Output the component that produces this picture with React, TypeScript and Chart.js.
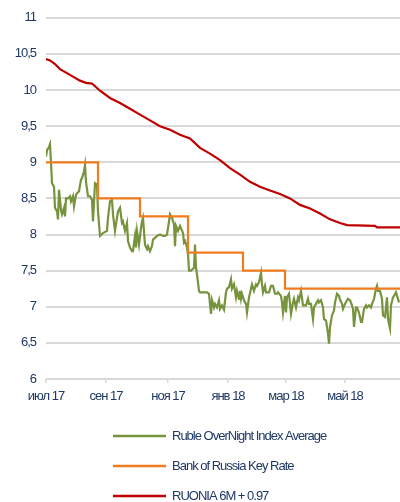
import React, { useEffect, useRef } from "react";
import { Chart, registerables } from "chart.js";

Chart.register(...registerables);

// x values are day offsets from the start of the plotted period
const tickDays = [0, 60, 122, 182, 240, 299];
const tickLabels = ["июл 17", "сен 17", "ноя 17", "янв 18", "мар 18", "май 18"];

const seriesNames = ["Ruble OverNight Index Average", "Bank of Russia Key Rate", "RUONIA 6M + 0.97"];

const ruoniaDays = [
  0, 1, 3, 4, 5, 6, 8, 9, 11, 12, 13, 15, 16, 18, 19, 20, 22, 24, 25, 27, 28, 30, 31, 33, 35, 36, 38, 39, 40, 42, 44, 46, 47, 49, 51, 52, 54,
  57, 61, 62, 64, 66, 67, 69, 71, 72, 74, 76, 77, 79, 81, 82, 84, 86, 87, 89, 90, 91, 93, 95, 96, 97, 99, 101, 102, 104, 106, 107, 111, 114, 117,
  119, 121, 123, 124, 126, 128, 129, 130, 132, 134, 137, 138, 139, 141, 142, 143, 145, 148, 149, 150, 151, 153, 154, 158, 161, 163, 165, 166, 168, 169, 171, 173, 174, 176, 178,
  180, 181, 183, 185, 186, 188, 190, 191, 193, 194, 195, 196, 198, 200, 201, 203, 205, 206, 208, 210, 211, 213, 215, 216, 217, 219, 220, 223, 225, 227, 229, 231, 232, 235, 236, 237, 239,
  240, 241, 243, 245, 247, 248, 250, 252, 253, 255, 257, 258, 260, 262, 263, 265, 267, 268, 270, 272, 273, 275, 277, 278, 280, 282, 283, 284, 286, 288, 289, 291, 293,
  294, 296, 297, 299, 301, 302, 304, 306, 307, 308, 310, 311, 313, 315, 316, 318, 320, 321, 323, 325, 326, 328, 330, 331, 332, 334, 336, 337, 339, 341, 342, 344, 345, 347, 348, 350, 352, 353,
];
const ruoniaValues = [
  9.08, 9.17, 9.21, 9.25, 9.0, 8.71, 8.66, 8.37, 8.32, 8.21, 8.62, 8.34, 8.28, 8.37, 8.25, 8.5, 8.5, 8.53, 8.46, 8.53, 8.39, 8.55, 8.57, 8.6, 8.76, 8.78, 8.87, 8.96, 8.73, 8.53, 8.53, 8.48, 8.18, 8.71, 8.69, 8.32, 7.98,
  8.02, 8.05, 8.23, 8.46, 8.48, 8.28, 8.05, 8.23, 8.32, 8.37, 8.16, 8.18, 8.05, 8.16, 7.91, 7.82, 7.77, 7.77, 7.98, 7.82, 8.05, 7.86, 8.09, 8.18, 8.23, 7.86, 7.8, 7.84, 7.77, 7.84, 7.93, 7.98, 8.0, 7.98,
  7.98, 8.0, 8.18, 8.28, 8.23, 8.14, 7.84, 8.12, 8.05, 8.12, 8.02, 7.89, 7.91, 7.82, 7.73, 7.5, 7.5, 7.54, 7.86, 7.54, 7.45, 7.22, 7.2, 7.2, 7.2, 7.18, 6.9, 7.09, 6.99, 7.04, 6.99, 7.09, 6.97, 7.02, 6.96,
  7.2, 7.25, 7.27, 7.38, 7.25, 7.31, 7.13, 7.22, 7.11, 7.22, 7.11, 7.18, 7.09, 7.04, 6.92, 7.13, 7.25, 7.31, 7.22, 7.31, 7.29, 7.34, 7.47, 7.31, 7.2, 7.29, 7.2, 7.2, 7.29, 7.29, 7.18, 7.18, 7.2, 7.15, 7.06, 6.92, 7.15,
  6.92, 7.13, 7.18, 6.9, 7.06, 7.11, 6.99, 7.13, 7.09, 7.22, 7.02, 7.02, 7.02, 7.11, 7.04, 7.04, 6.83, 6.99, 7.04, 7.09, 7.06, 7.09, 6.99, 6.83, 6.81, 6.63, 6.49, 6.72, 6.88, 6.95, 7.06, 7.18, 7.15,
  7.1, 7.04, 6.97, 7.04, 7.09, 7.11, 7.09, 7.02, 6.97, 6.72, 6.99, 6.99, 6.92, 6.79, 6.79, 6.97, 7.02, 6.99, 7.02, 6.99, 7.04, 7.11, 7.25, 7.29, 7.22, 7.22, 7.11, 6.88, 6.86, 7.13, 6.83, 6.7, 7.02, 7.13, 7.15, 7.2, 7.11, 7.06,
];

const keyRateDays = [0, 52, 94, 142, 197, 239, 354];
const keyRateValues = [9.0, 8.5, 8.25, 7.75, 7.5, 7.25, 7.25];

const ruonia6mDays = [0, 4, 9, 14, 24, 34, 40, 46, 54, 64, 74, 84, 94, 104, 114, 124, 134, 144, 154, 164, 174, 184, 194, 204, 214, 224, 234, 244, 254, 264, 274, 284, 294, 301, 329, 331, 354];
const ruonia6mValues = [
  10.43, 10.41, 10.36, 10.29, 10.21, 10.13, 10.1, 10.09, 9.99, 9.89, 9.82, 9.74, 9.66, 9.58, 9.5, 9.45, 9.38, 9.33, 9.2, 9.12, 9.03, 8.92, 8.83, 8.73, 8.66,
  8.61, 8.56, 8.5, 8.41, 8.36, 8.29, 8.21, 8.16, 8.13, 8.12, 8.1, 8.1,
];

const yTicks = [6, 6.5, 7, 7.5, 8, 8.5, 9, 9.5, 10, 10.5, 11];

const FONT = "'Liberation Sans', Arial, sans-serif";
const FONT_SIZE = 13;
const TEXT = "#1f3864";
const GRID = "#d9d9d9";

const zip = (xs: number[], ys: number[]) => xs.map((x, i) => ({ x, y: ys[i] }));

// condensed look (like Arial Narrow) via negative letter spacing
const narrowText = {
  id: "narrowText",
  beforeUpdate(chart: any) {
    chart.ctx.letterSpacing = "-1px";
  },
  beforeDraw(chart: any) {
    chart.ctx.letterSpacing = "-1px";
  },
};

const columnLegend = {
  id: "columnLegend",
  afterDraw(chart: any) {
    const ctx = chart.ctx;
    const startY = chart.chartArea.bottom + 57;
    ctx.save();
    ctx.letterSpacing = "-1px";
    chart.data.datasets.forEach((ds: any, i: number) => {
      const y = startY + i * 30;
      ctx.strokeStyle = ds.borderColor;
      ctx.lineWidth = 2.5;
      ctx.beginPath();
      ctx.moveTo(113, y);
      ctx.lineTo(166, y);
      ctx.stroke();
      ctx.fillStyle = TEXT;
      ctx.font = `${FONT_SIZE}px ${FONT}`;
      ctx.textBaseline = "middle";
      ctx.textAlign = "left";
      ctx.fillText(ds.label, 172, y);
    });
    ctx.restore();
  },
};

export default function App() {
  const ref = useRef<HTMLCanvasElement>(null);
  useEffect(() => {
    if (!ref.current) return;
    const chart = new Chart(ref.current, {
      type: "line",
      data: {
        datasets: [
          {
            label: seriesNames[0],
            data: zip(ruoniaDays, ruoniaValues),
            borderColor: "#77933c",
            borderWidth: 2.2,
            pointRadius: 0,
            order: 3,
          },
          {
            label: seriesNames[1],
            data: zip(keyRateDays, keyRateValues),
            borderColor: "#f07c1e",
            borderWidth: 2.2,
            pointRadius: 0,
            stepped: "before",
            order: 2,
          },
          {
            label: seriesNames[2],
            data: zip(ruonia6mDays, ruonia6mValues),
            borderColor: "#c00000",
            borderWidth: 2.2,
            pointRadius: 0,
            order: 1,
          },
        ],
      },
      options: {
        responsive: false,
        animation: false,
        devicePixelRatio: 1,
        layout: { padding: { top: 15, left: 0, right: 0, bottom: 0 } },
        plugins: { legend: { display: false }, tooltip: { enabled: false } },
        scales: {
          x: {
            type: "linear",
            min: 0,
            max: 354,
            afterBuildTicks: (scale: any) => {
              scale.ticks = tickDays.map((v) => ({ value: v }));
            },
            afterFit: (scale: any) => {
              scale.height = 123;
            },
            grid: { drawOnChartArea: false, drawTicks: true, tickLength: 4, color: GRID, lineWidth: 1.5 },
            border: { display: false },
            ticks: {
              autoSkip: false,
              maxRotation: 0,
              padding: 6,
              color: TEXT,
              font: { family: FONT, size: FONT_SIZE },
              callback: (_v: any, i: number) => tickLabels[i],
            },
          },
          y: {
            min: 6,
            max: 11,
            afterBuildTicks: (scale: any) => {
              scale.ticks = yTicks.map((v) => ({ value: v }));
            },
            afterFit: (scale: any) => {
              scale.width = 46;
            },
            grid: { drawTicks: false, color: GRID, lineWidth: 2 },
            border: { display: false },
            ticks: {
              padding: 10,
              color: TEXT,
              font: { family: FONT, size: FONT_SIZE },
              callback: (v: any) => String(v).replace(".", ","),
            },
          },
        },
      },
      plugins: [narrowText, columnLegend],
    });
    return () => chart.destroy();
  }, []);
  return (
    <div style={{ position: "absolute", left: 0, top: 0 }}>
      <canvas ref={ref} width={400} height={502} style={{ display: "block" }} />
    </div>
  );
}
